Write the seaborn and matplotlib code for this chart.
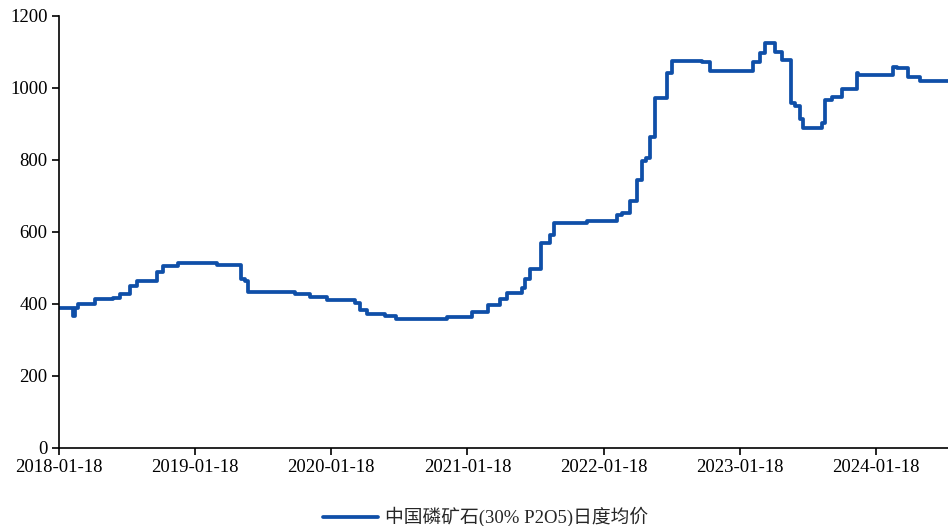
import matplotlib
matplotlib.use("Agg")
import matplotlib.pyplot as plt
import matplotlib.dates as mdates
import pandas as pd
import seaborn as sns

# Change points of the daily average price (step series)
dates = [
    "2018-01-18", "2018-02-25", "2018-03-03", "2018-03-11", "2018-04-25",
    "2018-06-13", "2018-07-01", "2018-07-28", "2018-08-16", "2018-10-09",
    "2018-10-25", "2018-12-04", "2019-03-19", "2019-05-22", "2019-06-01",
    "2019-06-10",
    "2019-10-14", "2019-11-23", "2020-01-08", "2020-03-23", "2020-04-05",
    "2020-04-24", "2020-06-11", "2020-07-11", "2020-11-25", "2021-01-31",
    "2021-03-15", "2021-04-16", "2021-05-05", "2021-06-14", "2021-06-22",
    "2021-07-05", "2021-08-04", "2021-08-28", "2021-09-08", "2021-12-05",
    "2022-02-23", "2022-03-09", "2022-03-30", "2022-04-18", "2022-05-02",
    "2022-05-12", "2022-05-23", "2022-06-05", "2022-07-07", "2022-07-21",
    "2022-10-09", "2022-10-31", "2023-02-23", "2023-03-14", "2023-03-27",
    "2023-04-23", "2023-05-12", "2023-06-05", "2023-06-16", "2023-06-29",
    "2023-07-07", "2023-08-27", "2023-09-04", "2023-09-23", "2023-10-20",
    "2023-11-29", "2023-12-01", "2024-03-04", "2024-03-15", "2024-04-13",
    "2024-05-15", "2024-07-29",
]
prices = [
    387, 366, 387, 399, 412,
    417, 427, 449, 464, 489,
    506, 512, 507, 468, 462,
    433,
    427, 419, 410, 401, 382,
    371, 366, 357, 363, 377,
    396, 412, 431, 443, 468,
    496, 568, 591, 623, 630,
    645, 651, 686, 744, 795,
    805, 864, 971, 1040, 1075,
    1070, 1045, 1072, 1096, 1125,
    1100, 1077, 957, 949, 912,
    887, 901, 966, 975, 995,
    1040, 1035, 1057, 1054, 1031,
    1019, 1019,
]
series_label = "中国磷矿石(30% P2O5)日度均价"
xtick_labels = ["2018-01-18", "2019-01-18", "2020-01-18", "2021-01-18",
                "2022-01-18", "2023-01-18", "2024-01-18"]
yticks = [0, 200, 400, 600, 800, 1000, 1200]

df = pd.DataFrame({"date": pd.to_datetime(dates), "price": prices})

sns.set_style("ticks")
plt.rcParams["font.family"] = ["Liberation Serif", "Noto Sans CJK SC"]

fig = plt.figure(figsize=(9.48, 5.26), dpi=100)
ax = fig.add_axes([58.6 / 948, 1 - 447.7 / 526, 1 - 58.6 / 948, (447.7 - 15.7) / 526])

line_color = "#0F4FA8"
sns.lineplot(data=df, x="date", y="price", drawstyle="steps-post",
             color=line_color, linewidth=2.7, ax=ax, label=series_label,
             legend=False)

ax.set_xlim(pd.Timestamp(dates[0]), pd.Timestamp(dates[-1]))
ax.set_ylim(0, 1200)
ax.set_yticks(yticks)
ax.set_xticks(pd.to_datetime(xtick_labels))
ax.xaxis.set_major_formatter(mdates.DateFormatter("%Y-%m-%d"))
ax.set_xlabel("")
ax.set_ylabel("")

for side in ["top", "right"]:
    ax.spines[side].set_visible(False)
for side in ["left", "bottom"]:
    ax.spines[side].set_color("black")
    ax.spines[side].set_linewidth(1.2)
ax.tick_params(axis="both", direction="out", length=5, width=1.2,
               color="black", labelsize=13.5, labelcolor="black", pad=3)

handles, labels = ax.get_legend_handles_labels()
fig.legend(handles, labels, loc="center", bbox_to_anchor=(486 / 948, 1 - 517 / 526),
           frameon=False, fontsize=13.5, handlelength=2.9, handletextpad=0.4)

fig.savefig("out.png", dpi=100, facecolor="white")
